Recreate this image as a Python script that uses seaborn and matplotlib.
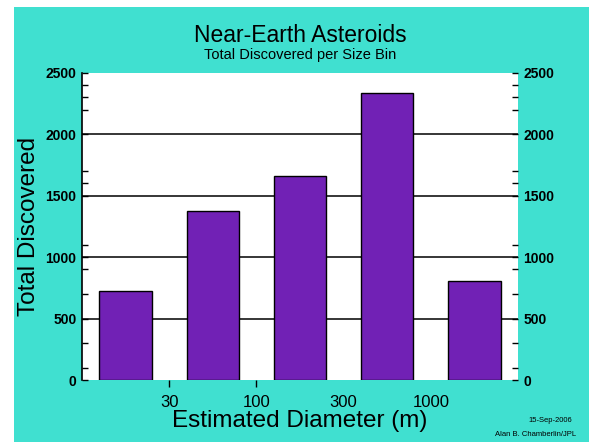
import numpy as np
import pandas as pd
import matplotlib
matplotlib.use("Agg")
import matplotlib.pyplot as plt
from matplotlib.patches import Rectangle
from matplotlib.ticker import FixedLocator
import seaborn as sns

# data
size_bins = ["<30", "30-100", "100-300", "300-1000", ">1000"]
discovered = [725, 1375, 1660, 2337, 805]
edge_labels = ["30", "100", "300", "1000"]
minor_ticks = [100, 300, 700, 900, 1100, 1600, 1700, 2200, 2300, 2400]

sns.set_style("white")
plt.rcParams["font.family"] = ["Liberation Sans", "DejaVu Sans"]
plt.rcParams["text.color"] = "black"
plt.rcParams["axes.labelcolor"] = "black"
plt.rcParams["xtick.color"] = "black"
plt.rcParams["ytick.color"] = "black"

df = pd.DataFrame({"bin": size_bins, "count": discovered})

fig = plt.figure(figsize=(5.89, 4.42), dpi=100)
fig.patch.set_facecolor("white")
# turquoise panel behind everything
fig.patches.append(Rectangle((14 / 589, 0), 1, 1 - 7 / 442, transform=fig.transFigure,
                             facecolor="#40e0d0", edgecolor="none", zorder=-10))

ax = fig.add_axes([82 / 589, 62 / 442, 436 / 589, 307.3 / 442])
ax.set_facecolor("white")
sns.barplot(x="bin", y="count", data=df, color="#7121b5", width=0.6,
            edgecolor="black", linewidth=1.0, saturation=1, ax=ax, zorder=3)

ax.set_xlim(-0.5, len(size_bins) - 0.5)
ax.set_ylim(0, 2500)

# y axis: labels both sides, ticks pointing in
ax.set_yticks(np.arange(0, 2501, 500))
ax.yaxis.set_minor_locator(FixedLocator(minor_ticks))
ax.tick_params(axis="y", which="both", direction="in", left=True, right=True,
               labelleft=True, labelright=True, length=4, width=1,
               labelsize=10, pad=3)
ax.tick_params(axis="y", which="major", labelright=True, pad=4)
for lab in ax.get_yticklabels():
    lab.set_fontweight("bold")

ax.yaxis.grid(True, color="black", linewidth=1.1, zorder=1)
ax.set_axisbelow(True)
grid = ax.get_ygridlines()
grid[0].set_visible(False)
grid[-1].set_visible(False)

# x axis: labels on bin edges
ax.set_xticks(np.arange(len(edge_labels)) + 0.5)
ax.set_xticklabels(edge_labels)
ax.tick_params(axis="x", direction="out", bottom=True, length=5, width=1,
               labelsize=12, pad=6)
for t in ax.xaxis.get_major_ticks()[2:]:
    t.tick1line.set_visible(False)

for s in ["top", "right", "bottom"]:
    ax.spines[s].set_visible(False)
ax.spines["left"].set_color("black")
ax.spines["left"].set_linewidth(1.2)

ax.set_xlabel("Estimated Diameter (m)", fontsize=17.5, labelpad=0)
ax.set_ylabel("Total Discovered", fontsize=17.5, labelpad=4)

fig.text(300 / 589, 1 - 36 / 442, "Near-Earth Asteroids", ha="center", va="center", fontsize=16.5)
fig.text(300 / 589, 1 - 55 / 442, "Total Discovered per Size Bin", ha="center", va="center", fontsize=10.5)
fig.text(572 / 589, 1 - 420 / 442, "15-Sep-2006", ha="right", va="center", fontsize=5.5)
fig.text(576 / 589, 1 - 434 / 442, "Alan B. Chamberlin/JPL", ha="right", va="center", fontsize=5.5)

fig.savefig("out.png", dpi=100)
